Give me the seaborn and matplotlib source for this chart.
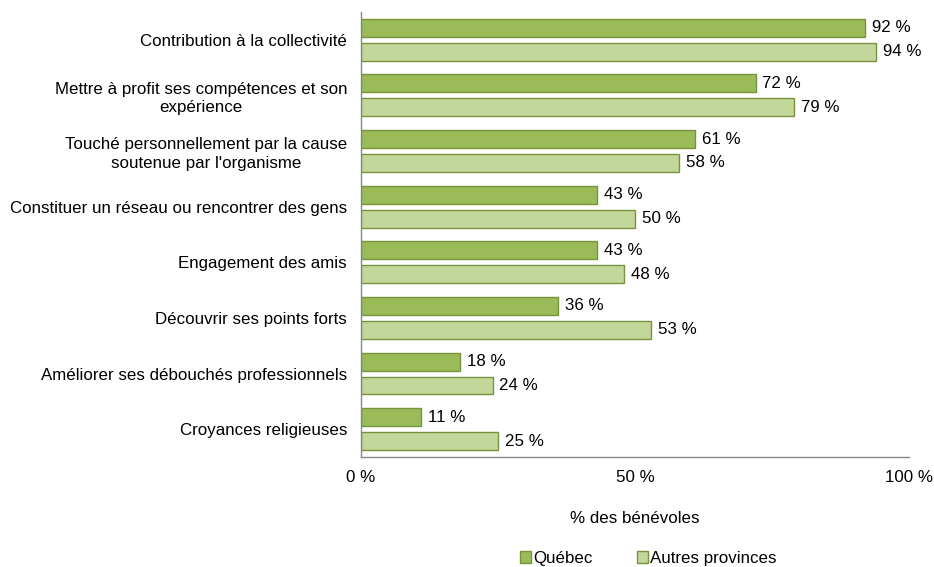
import matplotlib
matplotlib.use("Agg")
import matplotlib.pyplot as plt
import seaborn as sns
import pandas as pd
from matplotlib.patches import Patch

categories = [
    "Contribution à la collectivité",
    "Mettre à profit ses compétences et son\nexpérience",
    "Touché personnellement par la cause\nsoutenue par l'organisme",
    "Constituer un réseau ou rencontrer des gens",
    "Engagement des amis",
    "Découvrir ses points forts",
    "Améliorer ses débouchés professionnels",
    "Croyances religieuses",
]
quebec = [92, 72, 61, 43, 43, 36, 18, 11]
autres = [94, 79, 58, 50, 48, 53, 24, 25]
series = ["Québec", "Autres provinces"]
colors = ["#9BBB59", "#C4D79B"]
edge = "#77933C"
xticks = [0, 50, 100]
xtick_labels = ["0 %", "50 %", "100 %"]

df = pd.DataFrame({
    "cat": categories * 2,
    "val": quebec + autres,
    "serie": [series[0]] * len(categories) + [series[1]] * len(categories),
})

sns.set_theme(style="white", rc={"text.color": "black", "axes.labelcolor": "black",
                                  "xtick.color": "black", "ytick.color": "black"})
plt.rcParams["font.family"] = ["Liberation Sans", "DejaVu Sans"]
FS = 12.2

fig = plt.figure(figsize=(9.34, 5.67), dpi=100)
ax = fig.add_axes([0.3865, 0.194, 0.5867, 0.785])

sns.barplot(data=df, y="cat", x="val", hue="serie", orient="h",
            palette=colors, saturation=1, width=0.86, gap=0.25, errorbar=None,
            edgecolor=edge, linewidth=1.0, legend=False, ax=ax)

for cont in ax.containers:
    ax.bar_label(cont, labels=[f"{v:.0f} %" for v in cont.datavalues],
                 padding=5, fontsize=FS, color="black")

ax.set_xlim(0, 100)
ax.set_ylim(len(categories) - 0.5, -0.5)
ax.set_xticks(xticks)
ax.set_xticklabels(xtick_labels, fontsize=FS)
ax.tick_params(axis="x", length=5, width=1, color="#888888", labelcolor="black", pad=4)
ax.tick_params(axis="y", length=0, labelcolor="black", pad=10)
for lab in ax.get_yticklabels():
    lab.set_fontsize(FS)
    lab.set_multialignment("center")
    lab.set_linespacing(1.3)
ax.set_ylabel("")
ax.set_xlabel("% des bénévoles", fontsize=FS, labelpad=19, color="black")

for s in ["top", "right"]:
    ax.spines[s].set_visible(False)
for s in ["left", "bottom"]:
    ax.spines[s].set_color("#888888")
    ax.spines[s].set_linewidth(1.0)

handles = [Patch(facecolor=c, edgecolor=edge, label=l) for c, l in zip(colors, series)]
fig.legend(handles=handles, loc="lower center", bbox_to_anchor=(0.694, -0.025),
           ncol=2, frameon=False, fontsize=FS, handlelength=0.65, handleheight=0.65,
           handletextpad=0.15, columnspacing=2.6, labelcolor="black")

fig.savefig("out.png", dpi=100)
